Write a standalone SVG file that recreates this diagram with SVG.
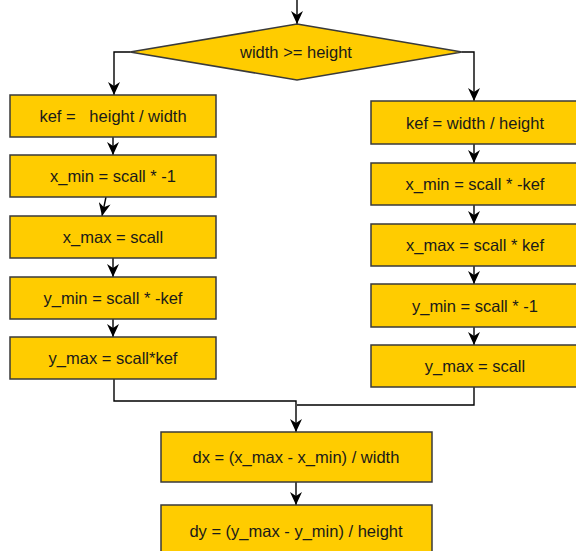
<svg xmlns="http://www.w3.org/2000/svg" width="576" height="551" viewBox="0 0 576 551">
<defs>
<marker id="arr" markerUnits="userSpaceOnUse" viewBox="0 0 13 12" refX="13" refY="6" markerWidth="13" markerHeight="12" orient="auto">
<path d="M0,0 L13,6 L0,12 L4,6 Z" fill="#000"/>
</marker>
<style>
.box{fill:#FFCC00;stroke:#3a3a3a;stroke-width:1.5}
.t{font-family:"Liberation Sans",Arial,sans-serif;font-size:16.5px;fill:#1a1a1a;text-anchor:middle;white-space:pre}
.c{fill:none;stroke:#000;stroke-width:1.4}
.a{marker-end:url(#arr)}
</style>
</defs>
<rect width="576" height="551" fill="#fff"/>
<g id="connectors">
<path class="c a" d="M297,0 V24"/>
<path class="c a" d="M130,52 H114 V95"/>
<path class="c a" d="M462,52 H474 V101"/>
<path class="c a" d="M113,137 V155"/>
<path class="c a" d="M106,197 L102,216"/>
<path class="c a" d="M113,258 V277"/>
<path class="c a" d="M113,319 V337"/>
<path class="c a" d="M474,144 V163"/>
<path class="c a" d="M474,205 V224"/>
<path class="c a" d="M474,266 V284"/>
<path class="c a" d="M474,327 V345"/>
<path class="c a" d="M114,379 V401 H296 V432"/>
<path class="c" d="M474,387 V405 H297"/>
<path class="c a" d="M296,482 V505"/>
</g>
<g id="decision">
<polygon class="box" points="297,24 462,52 297,80 130,52"/>
<text class="t" x="296" y="58">width &gt;= height</text>
</g>
<g id="l1"><rect class="box" x="10" y="95" width="206" height="42"/><text class="t" x="113" y="122" xml:space="preserve">kef =   height / width</text></g>
<g id="l2"><rect class="box" x="10" y="155" width="206" height="42"/><text class="t" x="113" y="182">x_min = scall * -1</text></g>
<g id="l3"><rect class="box" x="10" y="216" width="206" height="42"/><text class="t" x="113" y="243">x_max = scall</text></g>
<g id="l4"><rect class="box" x="10" y="277" width="206" height="42"/><text class="t" x="113" y="304">y_min = scall * -kef</text></g>
<g id="l5"><rect class="box" x="10" y="337" width="206" height="42"/><text class="t" x="113" y="364">y_max = scall*kef</text></g>
<g id="r1"><rect class="box" x="371" y="101" width="207" height="43"/><text class="t" x="475" y="129">kef = width / height</text></g>
<g id="r2"><rect class="box" x="371" y="163" width="207" height="42"/><text class="t" x="475" y="190">x_min = scall * -kef</text></g>
<g id="r3"><rect class="box" x="371" y="224" width="207" height="42"/><text class="t" x="475" y="251">x_max = scall * kef</text></g>
<g id="r4"><rect class="box" x="371" y="284" width="207" height="43"/><text class="t" x="475" y="312">y_min = scall * -1</text></g>
<g id="r5"><rect class="box" x="371" y="345" width="207" height="42"/><text class="t" x="475" y="372">y_max = scall</text></g>
<g id="dx"><rect class="box" x="161" y="432" width="271" height="50"/><text class="t" x="296" y="463">dx = (x_max - x_min) / width</text></g>
<g id="dy"><rect class="box" x="161" y="505" width="271" height="50"/><text class="t" x="296" y="537">dy = (y_max - y_min) / height</text></g>
</svg>
